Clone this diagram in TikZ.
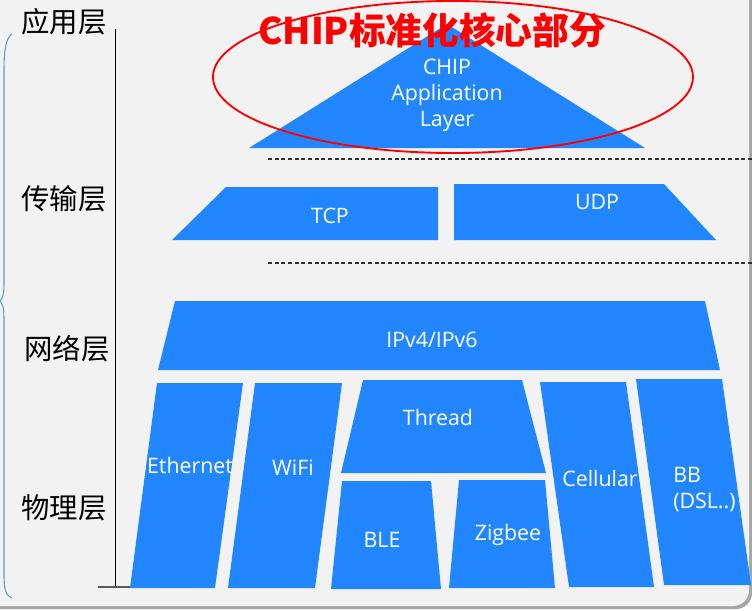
\documentclass[tikz,border=0pt]{standalone}
\usepackage{fontspec}
\setmainfont{Open Sans}
\newfontfamily\cjk{Noto Sans CJK SC}
\definecolor{blk}{HTML}{2186FF}
\definecolor{bgc}{HTML}{F2F2F2}
\definecolor{bracec}{HTML}{5B9BD5}
\begin{document}
\begin{tikzpicture}[x=0.75pt,y=-0.75pt,
  blockfill/.style={fill=blk},
  lbl/.style={text=white,font=\fontsize{16}{19.5}\selectfont,align=center,inner sep=0pt},
  layer/.style={font=\cjk\fontsize{21.3}{24}\selectfont,inner sep=0pt},
  dline/.style={black!80,line width=0.8pt,dash pattern=on 3pt off 2pt}]
\useasboundingbox (0,0) rectangle (752,610);
% background
\fill[white] (0,0) rectangle (752,610);
\fill[black!35,rounded corners=12pt] (-20,-20) rectangle (752,609);
\fill[bgc,rounded corners=12pt] (-20,-20) rectangle (749,606);
% brace
\draw[bracec,line width=0.8pt] (12,34) .. controls (6,38) and (4,50) .. (4,70) -- (4,285)
  .. controls (4,295) and (2,299) .. (0,301) .. controls (2,303) and (4,307) .. (4,317)
  -- (4,575) .. controls (4,590) and (6,596) .. (12,598);
% vertical axis
\coordinate (vtop) at (115,29);
\coordinate (vbot) at (115,587);
\coordinate (tl) at (98,587);
\coordinate (tr) at (133,587);
\draw[black,line width=0.6pt] (vtop) -- (vbot);
\draw[black!65,line width=1.2pt] (tl) -- (tr);
% layer labels
\node[layer] (l1) at (64,22) {应用层};
\node[layer] (l2) at (64,199) {传输层};
\node[layer] (l3) at (67,349) {网络层};
\node[layer] (l4) at (64,508) {物理层};
% dashed separators
\coordinate (d1a) at (268,159);
\coordinate (d1b) at (752,159);
\coordinate (d2a) at (268,263);
\coordinate (d2b) at (752,263);
\draw[dline] (d1a) -- (d1b);
\draw[dline] (d2a) -- (d2b);
% application triangle
\fill[blockfill] (249,148) -- (447,24) -- (645,148) -- cycle;
\node[lbl] (app) at (447,95) {CHIP\\Application\\Layer};
% transport
\fill[blockfill] (172,240) -- (226,187) -- (438,187) -- (438,240) -- cycle;
\node[lbl] (tcp) at (330,216) {TCP};
\fill[blockfill] (454,184) -- (664,184) -- (716,240) -- (454,240) -- cycle;
\node[lbl] (udp) at (597,202) {UDP};
% network
\fill[blockfill] (175,301) -- (705,301) -- (720,370) -- (158,370) -- cycle;
\node[lbl] (ip) at (432,340) {IPv4/IPv6};
% physical
\fill[blockfill] (157,383) -- (243,383) -- (215,588) -- (130,588) -- cycle;
\node[lbl] (eth) at (190,465) {Ethernet};
\fill[blockfill] (255,383) -- (342,383) -- (315,588) -- (228,588) -- cycle;
\node[lbl] (wifi) at (293,468) {WiFi};
\fill[blockfill] (363,380) -- (522,380) -- (546,473) -- (341,473) -- cycle;
\node[lbl] (thread) at (438,417) {Thread};
\fill[blockfill] (342,481) -- (431,481) -- (441,589) -- (331,589) -- cycle;
\node[lbl] (ble) at (382,540) {BLE};
\fill[blockfill] (459,480) -- (545,480) -- (555,588) -- (449,588) -- cycle;
\node[lbl] (zig) at (508,535) {Zigbee};
\fill[blockfill] (540,382) -- (626,382) -- (654,587) -- (569,587) -- cycle;
\node[lbl] (cell) at (600,478) {Cellular};
\fill[blockfill] (636,379) -- (722,379) -- (751,585) -- (664,585) -- cycle;
\node[lbl,align=left,anchor=west] (bb) at (673,490) {BB\\(DSL..)};
% highlight
\draw[red,line width=1.4pt] (453,77) ellipse [x radius=180pt, y radius=57pt];
\node[text=red,inner sep=0pt,font=\cjk\bfseries\fontsize{27.5}{30}\selectfont] (title) at (432,30) {CHIP标准化核心部分};
\end{tikzpicture}
\end{document}
